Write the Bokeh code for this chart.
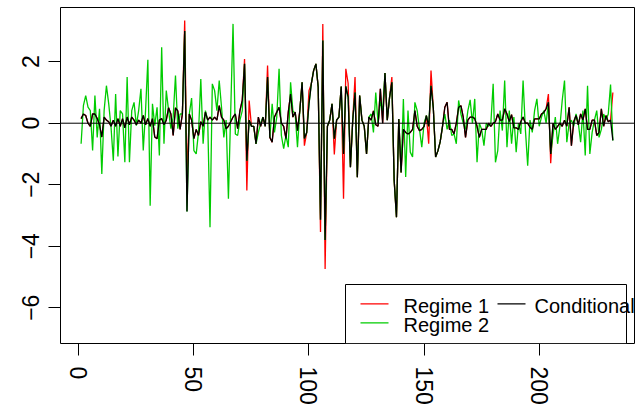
from bokeh.plotting import figure
from bokeh.models import Range1d, FixedTicker, Span, BoxAnnotation, Label
from bokeh.embed import file_html
from bokeh.resources import INLINE

index = list(range(1, 233))

conditional = [
    0.15, 0.30, 0.25, 0.00, -0.10, 0.30, 0.30, 0.15, -0.05, -0.45,
    0.20, 0.10, 0.05, -0.10, 0.10, -0.10, 0.15, -0.10, 0.15, -0.15,
    0.20, -0.05, 0.20, 0.10, -0.05, 0.10, 0.00, 0.25, -0.05, 0.15,
    -0.10, 0.15, -0.45, -0.50, 0.10, 0.15, -0.05, 0.10, 0.50, 0.30,
    -0.40, 0.50, 0.40, -0.20, 0.30, 3.00, -2.87, 0.30, 0.10, -0.50,
    -0.20, -0.40, 0.05, -0.10, 0.36, 0.10, 0.20, 0.10, 0.20, 0.10,
    0.57, 0.20, 0.10, -0.18, -0.10, 0.05, 0.20, 0.30, -0.18, 0.41,
    0.74, 1.93, -1.22, 0.10, -0.10, -0.10, -0.67, 0.20, -0.10, 0.20,
    -0.10, 1.50, -0.46, -0.62, 0.20, 0.36, 0.52, 0.00, -0.10, -0.50,
    0.36, 0.95, 0.20, 0.36, -0.24, 0.40, 1.33, -0.50, -0.30, 0.63,
    1.28, 1.71, 1.93, 1.17, -3.14, 2.69, -3.80, -0.10, 0.10, 0.63,
    -0.50, 0.10, 0.20, 1.19, -1.00, 1.20, 0.85, -1.43, 0.10, 1.00,
    -1.76, 0.90, 0.10, -0.10, -1.00, 0.20, 0.10, 0.40, -0.05, -0.10,
    1.12, 0.00, 1.63, 0.10, 0.84, 1.33, -1.86, -3.06, 0.14, -1.60,
    -0.20, -0.30, -0.35, -0.30, -0.20, 0.41, -0.10, -0.24, -0.20, -0.10,
    0.25, -0.10, 1.22, 0.50, -1.10, -0.90, -0.60, -0.10, 0.52, 0.68,
    -0.20, -0.20, -0.35, 0.00, 0.52, 0.57, 0.20, -0.46, 0.10, 0.20,
    0.20, 0.15, -0.10, -0.46, -0.20, -0.20, -0.20, 0.00, -0.10, 0.00,
    0.05, 0.30, 0.10, 0.10, 0.47, 0.30, 0.05, 0.28, -0.15, -0.15,
    -0.20, 0.05, 0.20, 0.00, 0.00, -0.13, -0.20, 0.14, 0.14, 0.14,
    0.30, 0.35, 0.47, 0.68, -1.00, 0.00, -0.20, -0.10, 0.00, -0.10,
    0.10, -0.10, 0.52, -0.73, 0.05, 0.25, -0.05, 0.30, 0.10, 0.47,
    -0.20, -0.20, 0.10, 0.10, -0.40, -0.30, 0.47, -0.10, 0.25, 0.05,
    0.10, -0.56,
]

regime1 = [
    0.15, 0.30, 0.25, 0.00, -0.10, 0.30, 0.30, 0.15, -0.05, -0.45,
    0.20, 0.10, 0.05, -0.10, 0.10, -0.10, 0.15, -0.10, 0.15, -0.15,
    0.20, -0.05, 0.20, 0.10, -0.05, 0.10, 0.00, 0.25, -0.05, 0.15,
    -0.10, 0.15, -0.45, -0.50, 0.10, 0.15, -0.05, 0.10, 0.50, 0.30,
    -0.40, 0.50, 0.40, -0.20, 0.30, 3.34, -1.76, 0.30, 0.10, -0.50,
    -0.20, -0.40, 0.05, -0.10, 0.36, 0.10, 0.20, 0.10, 0.20, 0.10,
    0.57, 0.20, 0.10, -0.18, -0.10, 0.05, 0.20, 0.30, -0.18, 0.41,
    0.74, 2.09, -2.19, 0.74, -0.10, -0.10, -0.67, 0.20, -0.10, 0.20,
    -0.10, 1.88, -0.46, -0.62, 0.20, 0.36, 0.52, 0.00, -0.10, -0.50,
    0.36, 0.95, 0.20, 0.36, -0.24, 0.40, 1.33, -0.73, -0.30, 1.06,
    1.28, 1.71, 1.93, 1.17, -3.54, 3.23, -4.74, -0.10, 0.10, 0.63,
    -1.02, 0.10, 0.20, 1.19, -2.46, 1.77, 1.30, -1.43, 0.10, 1.50,
    -1.76, 0.90, 0.10, -0.10, -1.00, 0.20, 0.10, 0.40, -0.05, -0.10,
    1.12, 0.00, 1.63, 0.10, 0.84, 1.50, -1.86, -3.06, 0.14, -1.60,
    -0.20, -0.30, -0.35, -0.30, -0.20, 0.41, -0.10, -0.24, -0.20, -0.10,
    0.25, -0.67, 1.71, 0.50, -1.10, -0.90, -0.60, -0.10, 0.52, 0.68,
    -0.20, -0.20, -0.35, 0.00, 0.52, 0.57, 0.20, -0.46, 0.10, 0.20,
    0.20, 0.15, -0.10, -0.46, -0.20, -0.20, -0.20, 0.00, -0.10, 0.00,
    0.05, 0.30, 0.10, 0.10, 0.47, 0.30, 0.05, 0.28, -0.15, -0.15,
    -0.20, 0.05, 0.20, 0.00, 0.00, -0.13, -0.20, 0.14, 0.14, 0.14,
    0.30, 0.35, 0.47, 0.95, -1.30, 0.00, -0.20, -0.10, 0.00, -0.10,
    0.10, -0.10, 0.52, -0.73, 0.05, 0.25, -0.05, 0.30, 0.10, 0.47,
    -0.20, -0.20, 0.10, 0.10, -0.40, -0.30, 0.47, -0.10, 0.25, 0.05,
    0.10, 1.00,
]

regime2 = [
    -0.67, 0.57, 0.90, 0.52, 0.41, -0.89, 0.90, -0.46, 0.47, -1.65,
    0.41, 1.22, 0.63, -0.13, -1.22, 0.95, -1.08, 0.41, 0.30, -1.27,
    1.50, -1.27, 0.41, 0.68, -0.08, 0.41, 1.12, -0.89, 0.41, 2.06,
    -2.68, 0.63, -0.08, 0.52, -1.05, 2.47, -0.67, 1.06, 0.41, -0.18,
    0.20, 1.55, -0.18, 0.30, 0.30, 3.00, -2.87, 0.30, 0.82, -0.89,
    -1.00, -0.30, 1.44, -0.67, 0.41, 0.10, -3.38, 1.28, 1.06, 0.41,
    1.39, 0.52, -0.46, 0.10, -2.46, 0.41, 3.23, -0.35, -0.40, 0.10,
    0.40, 1.93, -1.22, 0.10, -0.10, -0.10, -0.67, -0.30, 0.00, 0.20,
    -0.10, 1.50, -0.46, 0.63, -0.30, 0.20, 1.77, -0.40, -0.83, -0.40,
    -0.78, 1.33, 0.40, 0.30, -0.78, 0.40, 1.33, -0.50, -0.30, 0.63,
    1.28, 1.71, 1.93, 1.17, -3.14, 2.69, -3.80, -0.10, 0.10, 0.63,
    -0.50, 0.10, 0.20, 1.19, -1.00, 1.20, 0.85, -1.43, 0.10, 1.00,
    -1.76, 0.90, 0.10, -0.10, -1.00, 0.20, 0.30, -0.30, 1.00, 0.00,
    0.70, 0.40, 1.63, 0.10, 0.84, 1.33, -1.86, -3.06, 0.14, -1.60,
    0.79, -1.75, 0.41, -0.94, -1.10, 0.68, 0.41, -0.20, -0.78, 0.00,
    0.25, -0.10, 1.22, 0.50, -1.10, -0.90, -0.60, -0.10, 0.30, -0.20,
    0.10, -0.40, -0.35, -0.67, 0.74, 0.30, 0.00, -0.20, 0.40, 0.76,
    0.00, 0.79, -1.27, 0.00, -0.20, -0.73, 0.00, -0.10, 0.00, 1.28,
    -1.27, -0.89, 0.41, -0.24, 1.39, -0.78, 0.41, -0.67, 0.20, -0.94,
    0.00, -0.35, 1.39, -0.20, -1.38, 0.10, -0.30, 0.41, 0.79, -0.10,
    0.20, 0.41, 0.00, 0.68, -1.00, -0.40, 0.20, -0.67, -0.10, 0.74,
    1.39, -0.62, 0.00, 0.10, -0.10, 0.30, 0.00, -0.62, 0.41, -1.05,
    1.22, -1.00, -0.30, 0.10, 0.41, -0.46, -0.20, 0.30, 0.10, 0.30,
    1.26, -0.56,
]

x_ticks = [0, 50, 100, 150, 200]
y_ticks = [-6, -4, -2, 0, 2]
legend_labels = ["Regime 1", "Regime 2", "Conditional"]
colors = ["#FF0000", "#00CC00", "#000000"]

FONT = "Liberation Sans"
FS = "20px"
TICK_FS = "23px"

p = figure(width=636, height=417, output_backend="svg", toolbar_location=None,
           x_range=Range1d(-7.95, 241.4), y_range=Range1d(-7.164, 3.763),
           min_border_left=60, min_border_right=2, min_border_top=7,
           min_border_bottom=74)

p.background_fill_color = "white"
p.border_fill_color = "white"
p.outline_line_color = "black"
p.outline_line_width = 1
p.xgrid.visible = False
p.ygrid.visible = False

for ax in (p.xaxis[0], p.yaxis[0]):
    ax.axis_line_color = None
    ax.major_tick_in = 0
    ax.major_tick_out = 12
    ax.major_tick_line_color = "black"
    ax.minor_tick_line_color = None
    ax.major_label_text_font = FONT
    ax.major_label_text_font_size = TICK_FS
    ax.major_label_text_color = "black"
    ax.major_label_orientation = "vertical"

p.xaxis.ticker = FixedTicker(ticks=x_ticks)
p.yaxis.ticker = FixedTicker(ticks=y_ticks)
p.xaxis.major_label_standoff = 11
p.yaxis.major_label_standoff = 9

p.add_layout(Span(location=0, dimension="width", line_color="black", line_width=1))

series = [regime1, regime2, conditional]
for vals, col, lab in zip(series, colors, legend_labels):
    p.line(index, vals, line_color=col, line_width=1.3)

# legend (R style, frame-relative screen px)
box = BoxAnnotation(left=285, right=566, bottom=0, top=59,
                    left_units="screen", right_units="screen",
                    top_units="screen", bottom_units="screen",
                    fill_color="white", fill_alpha=1.0,
                    line_color="black", line_width=1, line_alpha=1.0)
p.add_layout(box)

leg_pos = [(300, 39.7, 343, 37.5), (300, 20.7, 343, 18.5), (437, 39.7, 474, 37.5)]
for (lx, ly, tx, ty), col, lab in zip(leg_pos, colors, legend_labels):
    p.add_layout(BoxAnnotation(left=lx, right=lx + 28, bottom=ly - 0.65, top=ly + 0.65,
                               left_units="screen", right_units="screen",
                               top_units="screen", bottom_units="screen",
                               fill_color=col, fill_alpha=1.0, line_color=None))
    p.add_layout(Label(x=tx, y=ty, x_units="screen", y_units="screen", text=lab,
                       text_font=FONT, text_font_size=FS, text_baseline="middle",
                       text_color="black"))

open("out.html", "w").write(file_html(p, INLINE))
